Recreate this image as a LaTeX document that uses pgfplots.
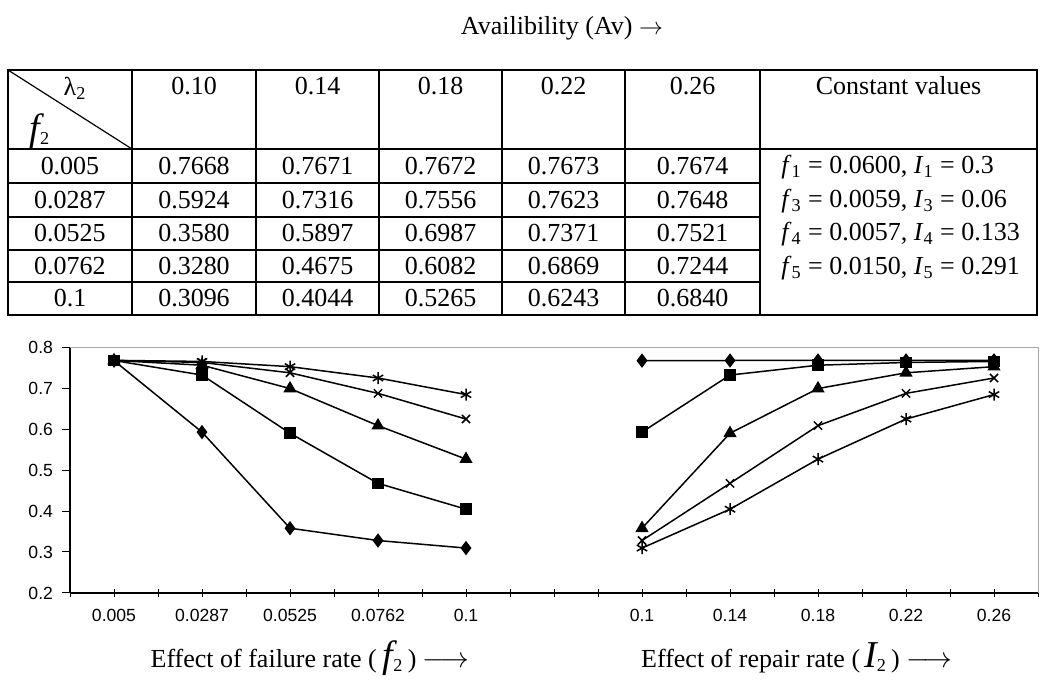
\documentclass[border=0pt]{standalone}
\usepackage{fontspec}
\setmainfont{Liberation Serif}
\setsansfont{Liberation Sans}
\usepackage{pgfplots}
\pgfplotsset{compat=1.18}
\begin{document}
\begin{tikzpicture}
\path[use as bounding box] (0,0) rectangle (520pt,-341.5pt);
\begin{scope}[x=0.5pt,y=-0.5pt, every node/.style={font=\fontsize{13}{15}\selectfont, inner sep=0pt}]
  % title
  \node at (562,28) {Availibility (Av) $\rightarrow$};
  % table grid
  \begin{scope}[line width=1.3pt]
    \draw (8,70) rectangle (1037,315);
    \draw (8,149) -- (1037,149);
    \foreach \y in {183,217,250,282} \draw (8,\y) -- (760,\y);
    \foreach \x in {132,256,379,502,625,760} \draw (\x,70) -- (\x,315);
  \end{scope}
  \draw[line width=0.6pt] (8,70) -- (132,149);
  \node at (75,88) {λ\textsubscript{2}};
  \node at (40,131) {{\fontsize{19}{19}\selectfont\itshape f}\textsubscript{2}};
  % header
  \foreach \x/\t in {194/0.10,317.5/0.14,440.5/0.18,563.5/0.22,692.5/0.26,898.5/Constant values}
    \node at (\x,86) {\t};
  % rows
  \foreach \y/\a/\b/\c/\d/\e/\f in {
      166/0.005/0.7668/0.7671/0.7672/0.7673/0.7674,
      200/0.0287/0.5924/0.7316/0.7556/0.7623/0.7648,
      233.5/0.0525/0.3580/0.5897/0.6987/0.7371/0.7521,
      266/0.0762/0.3280/0.4675/0.6082/0.6869/0.7244,
      298.5/0.1/0.3096/0.4044/0.5265/0.6243/0.6840}{
    \node at (70,\y) {\a};
    \node at (194,\y) {\b};
    \node at (317.5,\y) {\c};
    \node at (440.5,\y) {\d};
    \node at (563.5,\y) {\e};
    \node at (692.5,\y) {\f};
  }
  \node[anchor=west] at (781,167) {\textit{f}\textsubscript{1} = 0.0600, \textit{I}\textsubscript{1} = 0.3};
  \node[anchor=west] at (781,201) {\textit{f}\textsubscript{3} = 0.0059, \textit{I}\textsubscript{3} = 0.06};
  \node[anchor=west] at (781,234) {\textit{f}\textsubscript{4} = 0.0057, \textit{I}\textsubscript{4} = 0.133};
  \node[anchor=west] at (781,268) {\textit{f}\textsubscript{5} = 0.0150, \textit{I}\textsubscript{5} = 0.291};
  % bottom labels
  \node at (310,658) {Effect of failure rate (\hspace{3pt}{\fontsize{19}{19}\selectfont\itshape f}\textsubscript{2}\,) {\fontsize{15}{15}\selectfont$\longrightarrow$}};
  \node at (797,658) {Effect of repair rate (\hspace{2pt}{\fontsize{19}{19}\selectfont\itshape I}\textsubscript{2}\,) {\fontsize{15}{15}\selectfont$\longrightarrow$}};
\end{scope}
\begin{axis}[
  at={(35pt,-296.5pt)}, anchor=south west,
  scale only axis, width=484pt, height=123pt,
  xmin=0.5, xmax=11.5, ymin=0.2, ymax=0.8,
  axis lines*=left,
  x axis line style={line width=1pt},
  y axis line style={line width=0.6pt},
  xtick={0.5,1,1.5,2,2.5,3,3.5,4,4.5,5,5.5,6,6.5,7,7.5,8,8.5,9,9.5,10,10.5,11,11.5},
  xticklabels={,\textsf{0.005},,\textsf{0.0287},,\textsf{0.0525},,\textsf{0.0762},,\textsf{0.1},,,,\textsf{0.1},,\textsf{0.14},,\textsf{0.18},,\textsf{0.22},,\textsf{0.26},},
  ytick={0.2,0.3,0.4,0.5,0.6,0.7,0.8},
  xtick align=center, ytick align=outside,
  major tick length=4pt,
  tick style={black, line width=0.5pt},
  /pgf/number format/assume math mode=true,
  /pgf/number format/fixed, /pgf/number format/precision=1, /pgf/number format/fixed zerofill,
  ticklabel style={font=\sffamily\fontsize{8.8}{10}\selectfont},
  xticklabel style={yshift=-2.5pt},
  yticklabel style={xshift=-1pt},
  every axis plot/.append style={black, line width=0.75pt, mark options={solid, fill=black}},
  clip=false,
]
\addplot[mark=diamond*, mark size=3pt] coordinates {(1,0.7668)(2,0.5924)(3,0.3580)(4,0.3280)(5,0.3096)};
\addplot[mark=square*, mark size=2.5pt] coordinates {(1,0.7671)(2,0.7316)(3,0.5897)(4,0.4675)(5,0.4044)};
\addplot[mark=triangle*, mark size=3.1pt] coordinates {(1,0.7672)(2,0.7556)(3,0.6987)(4,0.6082)(5,0.5265)};
\addplot[mark=x, mark size=2.9pt] coordinates {(1,0.7673)(2,0.7623)(3,0.7371)(4,0.6869)(5,0.6243)};
\addplot[mark=asterisk, mark size=3pt] coordinates {(1,0.7674)(2,0.7648)(3,0.7521)(4,0.7244)(5,0.6840)};
\addplot[mark=diamond*, mark size=3pt] coordinates {(7,0.7668)(8,0.7671)(9,0.7672)(10,0.7673)(11,0.7674)};
\addplot[mark=square*, mark size=2.5pt] coordinates {(7,0.5924)(8,0.7316)(9,0.7556)(10,0.7623)(11,0.7648)};
\addplot[mark=triangle*, mark size=3.1pt] coordinates {(7,0.3580)(8,0.5897)(9,0.6987)(10,0.7371)(11,0.7521)};
\addplot[mark=x, mark size=2.9pt] coordinates {(7,0.3280)(8,0.4675)(9,0.6082)(10,0.6869)(11,0.7244)};
\addplot[mark=asterisk, mark size=3pt] coordinates {(7,0.3096)(8,0.4044)(9,0.5265)(10,0.6243)(11,0.6840)};
\draw[gray!70, line width=0.5pt] (rel axis cs:0,1) -- (rel axis cs:1,1) -- (rel axis cs:1,0);
\end{axis}
\end{tikzpicture}
\end{document}
